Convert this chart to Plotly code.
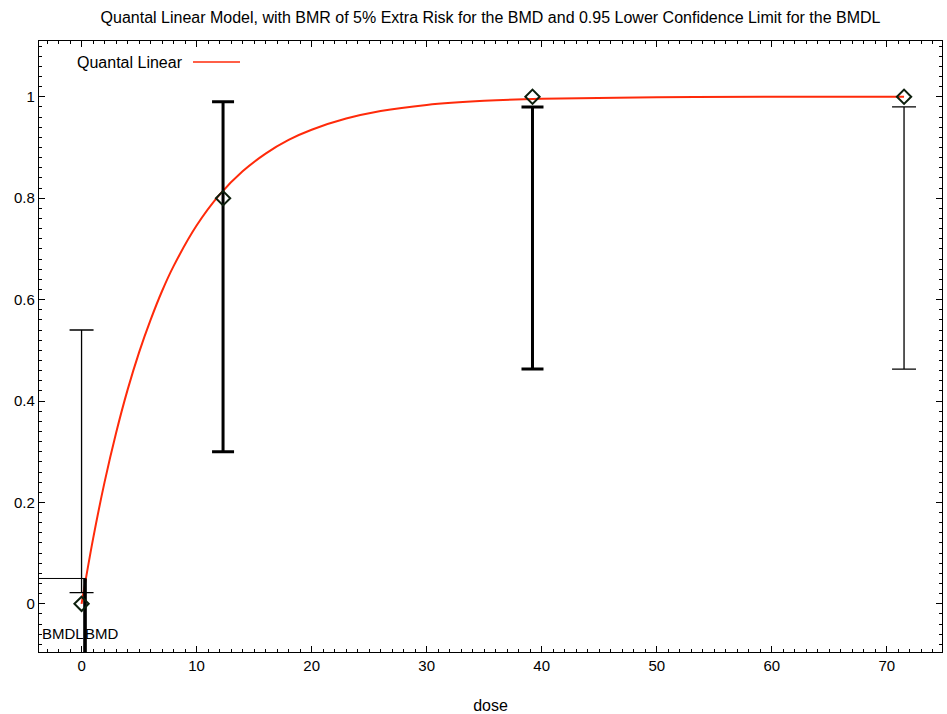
import plotly.graph_objects as go

# ---- data ----
doses = [0.0, 12.3, 39.2, 71.5]
response = [0.0, 0.80, 1.0, 1.0]
ci_lower = [0.022, 0.30, 0.463, 0.463]
ci_upper = [0.54, 0.99, 0.98, 0.98]
bar_thick = [False, True, True, False]

curve_dose = [0, 1, 2, 3, 4, 5, 6, 7, 8, 10, 12, 14, 16, 18, 20, 23, 26, 30, 35, 40, 50, 60, 71.5]
curve_resp = [0.0, 0.128, 0.240, 0.337, 0.422, 0.496, 0.560, 0.617, 0.666, 0.746, 0.807,
              0.853, 0.888, 0.915, 0.935, 0.957, 0.972, 0.984, 0.992, 0.996, 0.999, 1.0, 1.0]

bmr = 0.05
bmd = 0.35
bmdl = 0.25

x_range = [-3.7, 74.8]
y_range = [-0.095, 1.11]

title = "Quantal Linear Model, with BMR of 5% Extra Risk for the BMD and 0.95 Lower Confidence Limit for the BMDL"
FONT = "Liberation Sans, Arial, sans-serif"

fig = go.Figure()

# model curve
fig.add_trace(go.Scatter(x=curve_dose, y=curve_resp, mode="lines",
                         line=dict(color="#ff2a0a", width=2), line_shape="spline",
                         showlegend=False, hoverinfo="skip"))

# error bars (drawn around the interval midpoint so the library places the caps)
for thick in (False, True):
    xs = [d for d, t in zip(doses, bar_thick) if t == thick]
    lo = [l for l, t in zip(ci_lower, bar_thick) if t == thick]
    hi = [h for h, t in zip(ci_upper, bar_thick) if t == thick]
    mid = [(a + b) / 2 for a, b in zip(lo, hi)]
    half = [(b - a) / 2 for a, b in zip(lo, hi)]
    fig.add_trace(go.Scatter(x=xs, y=mid, mode="markers",
                             marker=dict(size=1, color="rgba(0,0,0,0)"),
                             error_y=dict(type="data", array=half, symmetric=True,
                                          color="black", thickness=3 if thick else 1.3,
                                          width=11 if thick else 12),
                             showlegend=False, hoverinfo="skip"))

# BMR horizontal line and BMD / BMDL verticals
fig.add_trace(go.Scatter(x=[x_range[0], bmd], y=[bmr, bmr], mode="lines",
                         line=dict(color="black", width=1), showlegend=False, hoverinfo="skip"))
for xv in (bmdl, bmd):
    fig.add_trace(go.Scatter(x=[xv, xv], y=[bmr, y_range[0]], mode="lines",
                             line=dict(color="black", width=2.5), showlegend=False, hoverinfo="skip"))

# observed data markers
fig.add_trace(go.Scatter(x=doses, y=response, mode="markers",
                         marker=dict(symbol="diamond-open", size=11, color="#0d1f0d",
                                     line=dict(width=2, color="#0d1f0d")),
                         showlegend=False))

# BMDL / BMD labels
fig.add_annotation(x=bmdl, y=-0.058, text="BMDL", showarrow=False, xanchor="right",
                   yanchor="middle", font=dict(family=FONT, size=15, color="black"), xshift=2)
fig.add_annotation(x=bmd, y=-0.058, text="BMD", showarrow=False, xanchor="left",
                   yanchor="middle", font=dict(family=FONT, size=15, color="black"), xshift=-3)

# legend (text then line sample, as in the reference)
fig.add_annotation(x=0.1617, y=0.9656, xref="paper", yref="paper", text="Quantal Linear",
                   showarrow=False, xanchor="right", yanchor="middle",
                   font=dict(family=FONT, size=16, color="black"))
fig.add_shape(type="line", xref="paper", yref="paper", x0=0.1705, x1=0.2226,
              y0=0.9656, y1=0.9656, line=dict(color="#ff2a0a", width=1.5))

axis_common = dict(showline=True, linecolor="black", linewidth=1.3, mirror="ticks",
                   ticks="inside", ticklen=6, tickcolor="black", tickwidth=1,
                   showgrid=False, zeroline=False,
                   tickfont=dict(family=FONT, size=15, color="black"))

fig.update_xaxes(range=x_range, dtick=10, tick0=0,
                 minor=dict(dtick=1, ticks="inside", ticklen=3, tickcolor="black", showgrid=False),
                 title=dict(text="dose", font=dict(family=FONT, size=16, color="black"), standoff=26),
                 **axis_common)
fig.update_yaxes(range=y_range, dtick=0.2, tick0=0,
                 minor=dict(dtick=0.02, ticks="inside", ticklen=3, tickcolor="black", showgrid=False),
                 **axis_common)

fig.update_layout(
    width=947, height=714,
    margin=dict(l=39, r=5, t=41, b=62, autoexpand=False),
    paper_bgcolor="white", plot_bgcolor="white",
    title=dict(text=title, x=0.5, xref="paper", y=1 - 17 / 714, yanchor="middle",
               font=dict(family=FONT, size=16, color="black")),
    showlegend=False,
)

fig.write_html("out.html", config={"displayModeBar": False},
               post_script="document.body.style.margin='0px';")
